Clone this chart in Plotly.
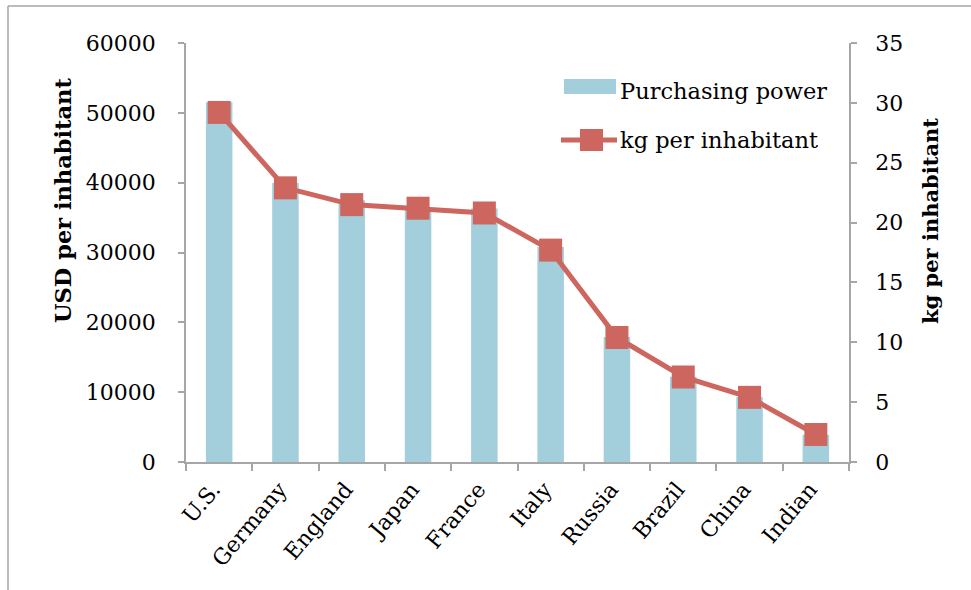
import plotly.graph_objects as go

# Country order and the two measured series
countries = ["U.S.", "Germany", "England", "Japan", "France", "Italy",
             "Russia", "Brazil", "China", "Indian"]
purchasing_power = [51500, 39950, 37500, 36300, 36300, 30800, 17900, 12200, 9300, 3900]
kg_per_inhabitant = [29.2, 22.9, 21.5, 21.2, 20.8, 17.7, 10.4, 7.1, 5.4, 2.3]

usd_ticks = [0, 10000, 20000, 30000, 40000, 50000, 60000]
kg_ticks = [0, 5, 10, 15, 20, 25, 30, 35]

BAR = "#A3CEDC"
LINE = "#CD665E"
AXIS = "#A6A6A6"
FONT = "DejaVu Serif"

fig = go.Figure()
fig.add_trace(go.Bar(
    x=countries, y=purchasing_power, name="Purchasing power",
    marker=dict(color=BAR, line=dict(width=0)), width=0.4, yaxis="y",
))
fig.add_trace(go.Scatter(
    x=countries, y=kg_per_inhabitant, name="kg per inhabitant",
    mode="lines+markers", yaxis="y2",
    line=dict(color=LINE, width=5),
    marker=dict(symbol="square", size=23, color=LINE),
))

# plot area geometry in pixels (used to place the hand-made legend and frame)
W, H = 971, 590
L, R, T, B = 186, 122, 43, 128
pw, ph = W - L - R, H - T - B


def px(x):
    return (x - L) / pw


def py(y):
    return (H - B - y) / ph


shapes = [
    # outer frame
    dict(type="line", xref="paper", yref="paper", x0=px(8), x1=px(8),
         y0=py(6), y1=py(H + 5), line=dict(color=AXIS, width=1.5)),
    dict(type="line", xref="paper", yref="paper", x0=px(8), x1=px(W + 5),
         y0=py(6), y1=py(6), line=dict(color=AXIS, width=1.5)),
    # legend swatches
    dict(type="rect", xref="paper", yref="paper", x0=px(564), x1=px(616),
         y0=py(79), y1=py(94), fillcolor=BAR, line=dict(width=0)),
    dict(type="line", xref="paper", yref="paper", x0=px(561), x1=px(617),
         y0=py(140), y1=py(140), line=dict(color=LINE, width=5)),
    dict(type="rect", xref="paper", yref="paper", x0=px(580), x1=px(603),
         y0=py(129), y1=py(151), fillcolor=LINE, line=dict(width=0)),
]

legend_font = dict(family=FONT, size=22.5, color="black")

annotations = [
    dict(text="Purchasing power", xref="paper", yref="paper", x=px(618), y=py(91),
         xanchor="left", yanchor="middle", showarrow=False, font=legend_font),
    dict(text="kg per inhabitant", xref="paper", yref="paper", x=px(618), y=py(140),
         xanchor="left", yanchor="middle", showarrow=False, font=legend_font),
    dict(text="<b>USD per inhabitant</b>", xref="paper", yref="paper",
         x=px(63), y=py(201), textangle=-90, showarrow=False,
         xanchor="center", yanchor="middle",
         font=dict(family=FONT, size=22.5, color="black")),
    dict(text="<b>kg per inhabitant</b>", xref="paper", yref="paper",
         x=px(930), y=py(221), textangle=-90, showarrow=False,
         xanchor="center", yanchor="middle",
         font=dict(family=FONT, size=21, color="black")),
]

tickfont = dict(family=FONT, size=22, color="black")

fig.update_layout(
    width=W, height=H,
    margin=dict(l=L, r=R, t=T, b=B),
    paper_bgcolor="white", plot_bgcolor="white",
    showlegend=False,
    font=dict(family=FONT, color="black"),
    xaxis=dict(
        type="category", range=[-0.5, len(countries) - 0.5],
        tickangle=-50, tickfont=tickfont, ticklabelshift=-6, ticklabelstandoff=4,
        showline=True, linecolor=AXIS, linewidth=1.5,
        ticks="outside", tickson="boundaries", ticklen=7, tickcolor=AXIS, tickwidth=1.5,
        showgrid=False, zeroline=False,
    ),
    yaxis=dict(
        range=[0, 60000], tickvals=usd_ticks, tickformat="d", tickfont=tickfont,
        showline=True, linecolor=AXIS, linewidth=1.5,
        ticks="outside", ticklen=6, tickcolor=AXIS, tickwidth=1.5,
        ticklabelstandoff=18,
        showgrid=False, zeroline=False,
    ),
    yaxis2=dict(
        range=[0, 35], tickvals=kg_ticks, tickfont=tickfont,
        overlaying="y", side="right",
        showline=True, linecolor=AXIS, linewidth=1.5,
        ticks="outside", ticklen=6, tickcolor=AXIS, tickwidth=1.5,
        ticklabelstandoff=14,
        showgrid=False, zeroline=False,
    ),
    shapes=shapes,
    annotations=annotations,
)

fig.write_html("out.html")
